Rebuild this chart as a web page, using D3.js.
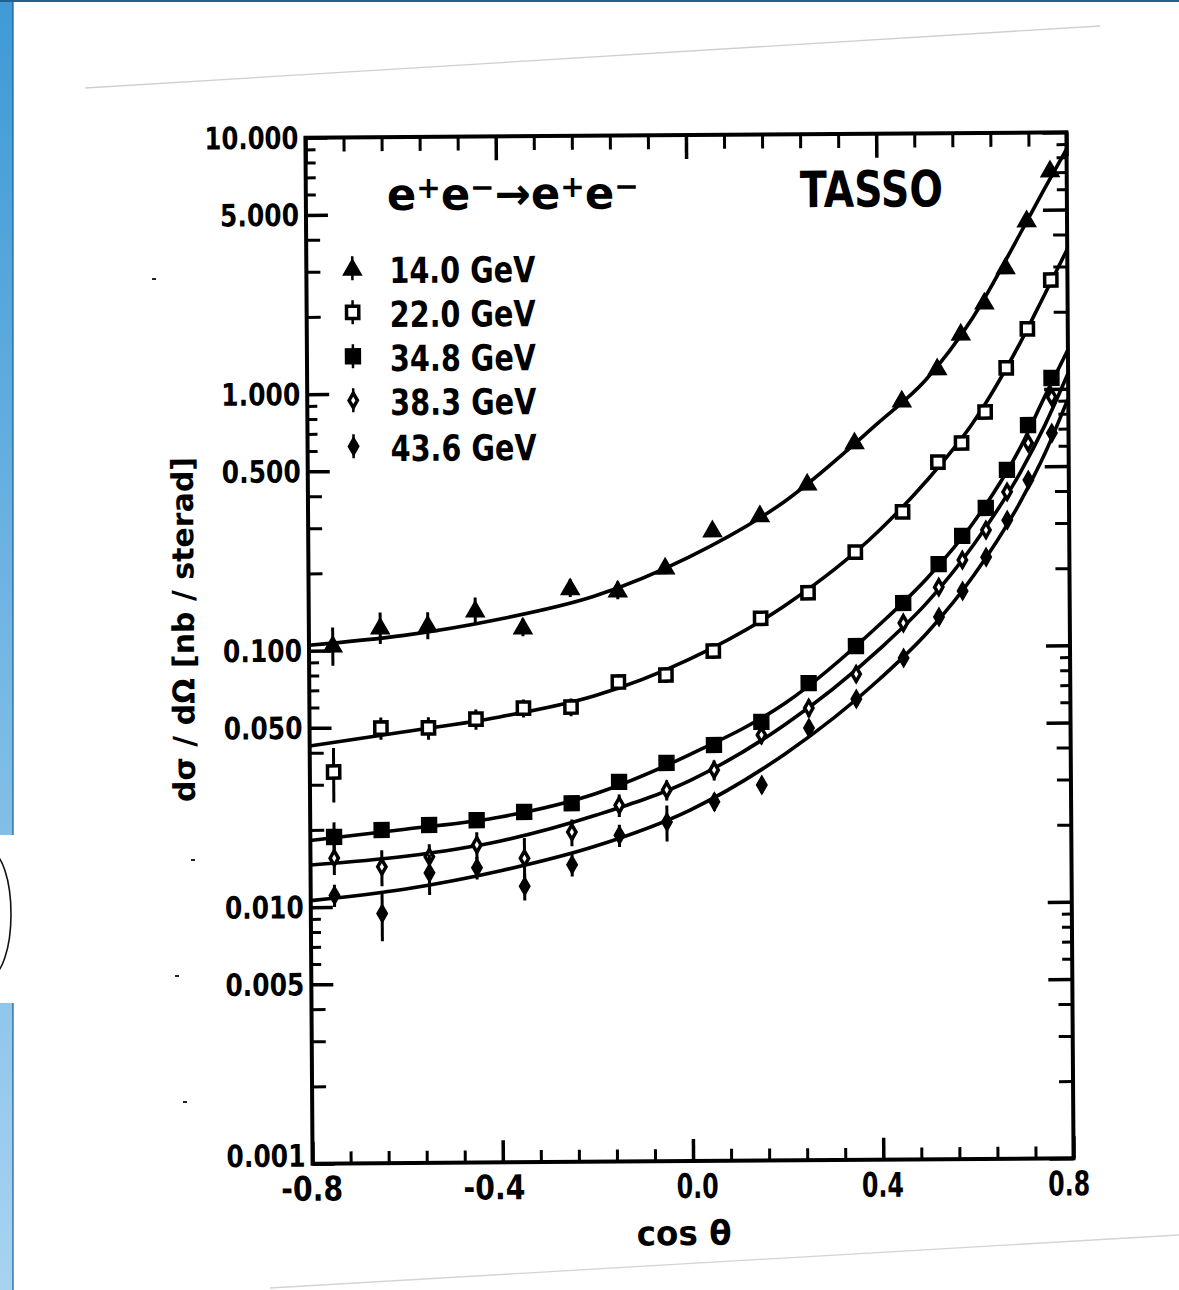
<!DOCTYPE html>
<html>
<head>
<meta charset="utf-8">
<script src="https://cdn.jsdelivr.net/npm/d3@7"></script>
<style>
  html, body { margin: 0; padding: 0; background: #ffffff; }
  svg { display: block; }
  text { font-family: "DejaVu Sans", "Liberation Sans", sans-serif; font-weight: bold; fill: #000; }
</style>
</head>
<body>
<svg id="chart" width="1179" height="1290"></svg>
<script>
// Bhabha scattering e+e- -> e+e-, differential cross section vs cos(theta), TASSO

// measured angular bins (cos theta)
const cosBins = [-0.75, -0.65, -0.55, -0.45, -0.35, -0.25, -0.15, -0.05, 0.05, 0.15,
                 0.25, 0.35, 0.45, 0.525, 0.575, 0.625, 0.67, 0.715, 0.765];

// dsigma/dOmega [nb/sr] per beam energy
const v14  = [0.105, 0.123, 0.125, 0.1425, 0.122, 0.173, 0.169, 0.207, 0.288, 0.329,
              0.436, 0.629, 0.914, 1.216, 1.66, 2.19, 3.0, 4.57, 7.14];
const v22  = [0.0336, 0.0497, 0.0496, 0.0535, 0.0589, 0.0593, 0.074, 0.0786, 0.0972, 0.130,
              0.163, 0.234, 0.335, 0.5225, 0.619, 0.8165, 1.212, 1.717, 2.66];
const v348 = [0.01875, 0.0199, 0.02075, 0.0216, 0.0232, 0.0250, 0.0302, 0.0357, 0.0418, 0.0513,
              0.0724, 0.1007, 0.1478, 0.209, 0.269, 0.345, 0.485, 0.7245, 1.104];
const v383 = [0.0155, 0.0143, 0.0156, 0.0173, 0.0153, 0.0193, 0.0245, 0.0280, 0.0334, 0.0456,
              0.0579, 0.0783, 0.1235, 0.170, 0.2166, 0.283, 0.398, 0.6165, 0.931];
const v436 = [0.0111, 0.0094, 0.0135, 0.0141, 0.0119, 0.0144, 0.0187, 0.0210, 0.0251, 0.0291,
              0.0484, 0.0626, 0.0902, 0.130, 0.164, 0.222, 0.309, 0.442, 0.673];

// relative statistical errors
const e14  = [0.17, 0.14, 0.12, 0.12, 0.08, 0.08, 0.08, 0.06, 0.06, 0.05, 0.05, 0.05, 0.05, 0.05, 0.05, 0.05, 0.05, 0.05, 0.05];
const e22  = [0.24, 0.10, 0.10, 0.09, 0.08, 0.08, 0.07, 0.07, 0.07, 0.06, 0.06, 0.06, 0.05, 0.05, 0.05, 0.05, 0.05, 0.05, 0.05];
const e348 = [0.14, 0.06, 0.06, 0.06, 0.05, 0.05, 0.05, 0.05, 0.05, 0.05, 0.05, 0.05, 0.05, 0.04, 0.04, 0.04, 0.04, 0.04, 0.04];
const e383 = [0.14, 0.16, 0.12, 0.12, 0.20, 0.12, 0.10, 0.09, 0.09, 0.08, 0.08, 0.07, 0.07, 0.06, 0.06, 0.06, 0.06, 0.06, 0.06];
const e436 = [0.10, 0.22, 0.18, 0.10, 0.12, 0.10, 0.10, 0.16, 0.08, 0.07, 0.07, 0.06, 0.06, 0.06, 0.06, 0.06, 0.06, 0.06, 0.06];

// QED prediction curves
const curveCos = [-0.8, -0.6, -0.4, -0.2, 0.0, 0.2, 0.4, 0.5, 0.6, 0.7, 0.75, 0.8];
const c14  = [0.105, 0.114, 0.131, 0.160, 0.226, 0.368, 0.745, 1.09, 1.90, 4.0, 5.9, 8.6];
const c22  = [0.0425, 0.0480, 0.0545, 0.0655, 0.0905, 0.145, 0.283, 0.44, 0.745, 1.52, 2.3, 3.5];
const c348 = [0.0182, 0.0200, 0.0222, 0.0272, 0.0385, 0.0605, 0.122, 0.184, 0.305, 0.60, 0.93, 1.42];
const c383 = [0.0146, 0.0157, 0.0179, 0.0224, 0.0305, 0.050, 0.098, 0.148, 0.25, 0.48, 0.72, 1.15];
const c436 = [0.0106, 0.0117, 0.0137, 0.0170, 0.0234, 0.0385, 0.075, 0.113, 0.19, 0.37, 0.56, 0.92];

const seriesNames = ["14.0 GeV", "22.0 GeV", "34.8 GeV", "38.3 GeV", "43.6 GeV"];

// axis ticks
const xTickValues = [-0.8, -0.4, 0.0, 0.4, 0.8];
const xTickLabels = ["-0.8", "-0.4", "0.0", "0.4", "0.8"];
const yTickValues = [10, 5, 1, 0.5, 0.1, 0.05, 0.01, 0.005, 0.001];
const yTickLabels = ["10.000", "5.000", "1.000", "0.500", "0.100", "0.050", "0.010", "0.005", "0.001"];

// ---------------------------------------------------------------
const L = 309, R = 1070, T = 135, B = 1161;
const x = d3.scaleLinear().domain([-0.8, 0.8]).range([L, R]);
const y = d3.scaleLog().domain([0.001, 10]).range([B, T]);

const svg = d3.select("#chart");

// page furniture: blue side strip, thin top edge, sheet edges
const defs = svg.append("defs");
const grad = defs.append("linearGradient").attr("id", "strip")
  .attr("gradientUnits", "userSpaceOnUse").attr("x1", 0).attr("y1", 0).attr("x2", 0).attr("y2", 1290);
grad.append("stop").attr("offset", 0).attr("stop-color", "#3f9ad6");
grad.append("stop").attr("offset", 1).attr("stop-color", "#a7d3f1");

svg.append("rect").attr("x", 0).attr("y", 0).attr("width", 13).attr("height", 835).attr("fill", "url(#strip)");
svg.append("rect").attr("x", 0).attr("y", 1003).attr("width", 13).attr("height", 287).attr("fill", "url(#strip)");
svg.append("line").attr("x1", 13).attr("x2", 13).attr("y1", 0).attr("y2", 835).attr("stroke", "#1f5785").attr("stroke-width", 1.2);
svg.append("line").attr("x1", 13).attr("x2", 13).attr("y1", 1003).attr("y2", 1290).attr("stroke", "#1f5785").attr("stroke-width", 1.2);
svg.append("line").attr("x1", 0).attr("x2", 1179).attr("y1", 1).attr("y2", 1).attr("stroke", "#22618f").attr("stroke-width", 2);
svg.append("ellipse").attr("cx", -10).attr("cy", 914).attr("rx", 21).attr("ry", 62)
  .attr("fill", "none").attr("stroke", "#111").attr("stroke-width", 1.6);

svg.append("line").attr("x1", 85).attr("y1", 88).attr("x2", 1100).attr("y2", 26)
  .attr("stroke", "#cfcfcf").attr("stroke-width", 1.3);
svg.append("line").attr("x1", 270).attr("y1", 1288).attr("x2", 1179).attr("y2", 1235)
  .attr("stroke", "#d4d4d4").attr("stroke-width", 1.3);

// small specks on the sheet
[[154, 279], [193, 860], [177, 976], [185, 1102]].forEach(p => {
  svg.append("rect").attr("x", p[0] - 2).attr("y", p[1] - 1).attr("width", 4).attr("height", 2).attr("fill", "#222");
});

// the plot itself sits slightly tilted on the sheet
const g = svg.append("g").attr("transform", "rotate(-0.4, 689.5, 648)");

// frame
g.append("rect").attr("x", L).attr("y", T).attr("width", R - L).attr("height", B - T)
  .attr("fill", "none").attr("stroke", "#000").attr("stroke-width", 4);

// minor tick value lists
const yMinorLong = [], yMinorShort = [];
[0.001, 0.01, 0.1, 1].forEach(d => {
  [2, 3, 4].forEach(m => yMinorLong.push(m * d));
  [6, 7, 8, 9].forEach(m => yMinorShort.push(m * d));
});
const xMinor = d3.range(0, 21).map(i => -0.8 + i * 0.08).filter(v => Math.abs(((v + 0.8) / 0.4) - Math.round((v + 0.8) / 0.4)) > 1e-6);

function styleAxis(sel, w) {
  sel.select(".domain").remove();
  sel.selectAll(".tick line").attr("stroke", "#000").attr("stroke-width", w);
}

// left axis
const yLeft = g.append("g").attr("transform", `translate(${L},0)`)
  .call(d3.axisLeft(y).tickValues(yTickValues).tickFormat((d, i) => yTickLabels[i])
    .tickSizeInner(-22).tickSizeOuter(0).tickPadding(7));
styleAxis(yLeft, 3.5);
yLeft.selectAll(".tick text")
  .attr("font-size", 31)
  .attr("dy", (d, i) => i === yTickLabels.length - 1 ? "0.08em" : "0.34em")
  .attr("textLength", (d, i) => yTickLabels[i].length > 5 ? 94 : 79)
  .attr("lengthAdjust", "spacingAndGlyphs");
g.append("g").attr("transform", `translate(${L},0)`)
  .call(d3.axisLeft(y).tickValues(yMinorLong).tickFormat("").tickSizeInner(-14).tickSizeOuter(0))
  .call(s => styleAxis(s, 3));
g.append("g").attr("transform", `translate(${L},0)`)
  .call(d3.axisLeft(y).tickValues(yMinorShort).tickFormat("").tickSizeInner(-10).tickSizeOuter(0))
  .call(s => styleAxis(s, 3));

// right axis
g.append("g").attr("transform", `translate(${R},0)`)
  .call(d3.axisRight(y).tickValues(yTickValues).tickFormat("").tickSizeInner(-24).tickSizeOuter(0))
  .call(s => styleAxis(s, 3.5));
g.append("g").attr("transform", `translate(${R},0)`)
  .call(d3.axisRight(y).tickValues(yMinorLong).tickFormat("").tickSizeInner(-14).tickSizeOuter(0))
  .call(s => styleAxis(s, 3));
g.append("g").attr("transform", `translate(${R},0)`)
  .call(d3.axisRight(y).tickValues(yMinorShort).tickFormat("").tickSizeInner(-10).tickSizeOuter(0))
  .call(s => styleAxis(s, 3));

// bottom axis
const xLabelShift = [30, 22, 25, 20, 16];
const xBottom = g.append("g").attr("transform", `translate(0,${B})`)
  .call(d3.axisBottom(x).tickValues(xTickValues).tickFormat((d, i) => xTickLabels[i])
    .tickSizeInner(-22).tickSizeOuter(0));
styleAxis(xBottom, 3.5);
xBottom.selectAll(".tick text")
  .attr("font-size", 34).attr("y", 37).attr("dy", 0)
  .attr("text-anchor", "end").attr("x", (d, i) => xLabelShift[i])
  .attr("textLength", (d, i) => xTickLabels[i].startsWith("-") ? 62 : 42)
  .attr("lengthAdjust", "spacingAndGlyphs");
g.append("g").attr("transform", `translate(0,${B})`)
  .call(d3.axisBottom(x).tickValues(xMinor).tickFormat("").tickSizeInner(-12).tickSizeOuter(0))
  .call(s => styleAxis(s, 3));

// top axis
g.append("g").attr("transform", `translate(0,${T})`)
  .call(d3.axisTop(x).tickValues(xTickValues).tickFormat("").tickSizeInner(-24).tickSizeOuter(0))
  .call(s => styleAxis(s, 3.5));
g.append("g").attr("transform", `translate(0,${T})`)
  .call(d3.axisTop(x).tickValues(xMinor).tickFormat("").tickSizeInner(-14).tickSizeOuter(0))
  .call(s => styleAxis(s, 3));

// axis titles
g.append("text").attr("transform", "translate(194,626) rotate(-90)")
  .attr("text-anchor", "middle").attr("font-size", 30)
  .attr("textLength", 345).attr("lengthAdjust", "spacingAndGlyphs")
  .text("dσ / dΩ  [nb / sterad]");
g.append("text").attr("x", 680).attr("y", 1245).attr("text-anchor", "middle")
  .attr("font-size", 34).attr("textLength", 95).attr("lengthAdjust", "spacingAndGlyphs")
  .text("cos θ");

// reaction and experiment
const reac = g.append("text").attr("x", 390).attr("y", 208).attr("font-size", 44)
  .attr("textLength", 252).attr("lengthAdjust", "spacingAndGlyphs");
reac.append("tspan").text("e");
reac.append("tspan").attr("font-size", 30).attr("dy", -12).text("+");
reac.append("tspan").attr("dy", 12).text("e");
reac.append("tspan").attr("font-size", 30).attr("dy", -12).text("−");
reac.append("tspan").attr("dy", 12).text("→");
reac.append("tspan").text("e");
reac.append("tspan").attr("font-size", 30).attr("dy", -12).text("+");
reac.append("tspan").attr("dy", 12).text("e");
reac.append("tspan").attr("font-size", 30).attr("dy", -12).text("−");

g.append("text").attr("x", 803).attr("y", 208).attr("font-size", 50)
  .attr("textLength", 143).attr("lengthAdjust", "spacingAndGlyphs").text("TASSO");

// series definitions
const series = [
  { name: seriesNames[0], vals: v14,  errs: e14,  curve: c14,  type: d3.symbolTriangle, size: 140, open: false, dy: 1.5 },
  { name: seriesNames[1], vals: v22,  errs: e22,  curve: c22,  type: d3.symbolSquare,   size: 150, open: true,  dy: 0 },
  { name: seriesNames[2], vals: v348, errs: e348, curve: c348, type: d3.symbolSquare,   size: 220, open: false, dy: 0 },
  { name: seriesNames[3], vals: v383, errs: e383, curve: c383, type: d3.symbolDiamond,  size: 60,  open: true,  dy: 0 },
  { name: seriesNames[4], vals: v436, errs: e436, curve: c436, type: d3.symbolDiamond,  size: 95,  open: false, dy: 0 }
];

const line = d3.line().x(d => x(d[0])).y(d => y(d[1])).curve(d3.curveMonotoneX);

series.forEach(s => {
  g.append("path").datum(curveCos.map((c, i) => [c, s.curve[i]]))
    .attr("d", line).attr("fill", "none").attr("stroke", "#000").attr("stroke-width", 3.6)
    .attr("stroke-linejoin", "round");
});

series.forEach(s => {
  const pts = cosBins.map((c, i) => ({ c, v: s.vals[i], e: s.errs[i] }));
  const sg = g.append("g");
  sg.selectAll("line.err").data(pts).join("line").attr("class", "err")
    .attr("x1", d => x(d.c)).attr("x2", d => x(d.c))
    .attr("y1", d => y(d.v * (1 + d.e))).attr("y2", d => y(d.v * (1 - d.e)))
    .attr("stroke", "#000").attr("stroke-width", 3);
  sg.selectAll("path.mk").data(pts).join("path").attr("class", "mk")
    .attr("d", d3.symbol().type(s.type).size(s.size))
    .attr("transform", d => `translate(${x(d.c)},${y(d.v) + s.dy})`)
    .attr("fill", s.open ? "#fff" : "#000")
    .attr("stroke", "#000").attr("stroke-width", s.open ? 3.5 : 1.5);
});

// legend
const legRows = [266, 310, 354, 398, 444];
series.forEach((s, i) => {
  const lg = g.append("g").attr("transform", `translate(355,${legRows[i]})`);
  lg.append("line").attr("x1", 0).attr("x2", 0).attr("y1", -12).attr("y2", 12)
    .attr("stroke", "#000").attr("stroke-width", 2.5);
  lg.append("path").attr("d", d3.symbol().type(s.type).size(s.size)())
    .attr("transform", `translate(0,${s.dy})`)
    .attr("fill", s.open ? "#fff" : "#000").attr("stroke", "#000")
    .attr("stroke-width", s.open ? 3.5 : 1.5);
  lg.append("text").attr("x", 37).attr("y", 15).attr("font-size", 36)
    .attr("textLength", 146).attr("lengthAdjust", "spacingAndGlyphs").text(s.name);
});
</script>
</body>
</html>
